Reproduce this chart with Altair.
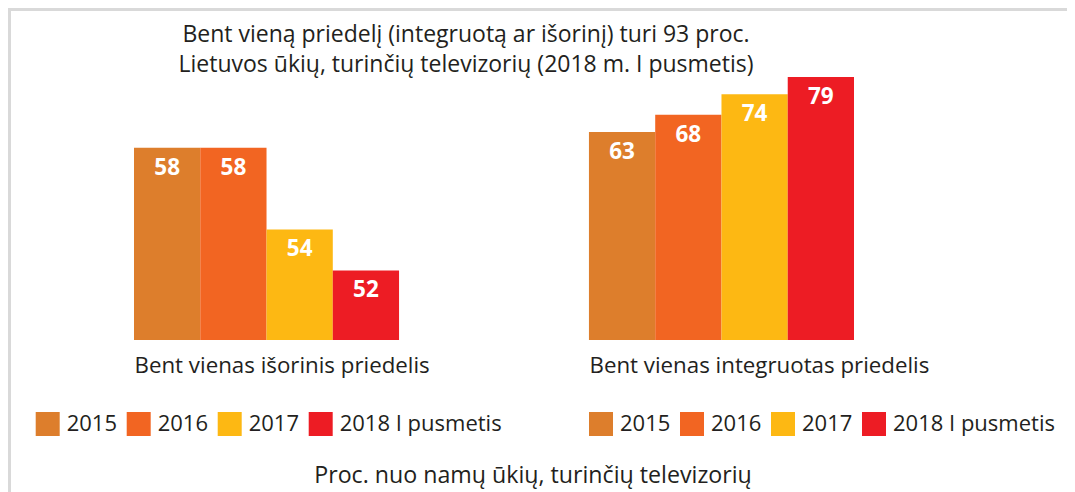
import altair as alt
import pandas as pd

groups = ["Bent vienas išorinis priedelis", "Bent vienas integruotas priedelis"]
years = ["2015", "2016", "2017", "2018 I pusmetis"]
external_values = [58, 58, 54, 52]
integrated_values = [63, 68, 74, 79]
colors = ["#DD7E2C", "#F26522", "#FDB813", "#ED1C24"]
title_lines = [
    "Bent vieną priedelį (integruotą ar išorinį) turi 93 proc.",
    "Lietuvos ūkių, turinčių televizorių (2018 m. I pusmetis)",
]
note = "Proc. nuo namų ūkių, turinčių televizorių"

FONT = "Open Sans"
TEXT = "#231f20"

df_ext = pd.DataFrame({"group": groups[0], "year": years, "value": external_values})
df_int = pd.DataFrame({"group": groups[1], "year": years, "value": integrated_values})

x_enc = alt.X(
    "group:N",
    sort=groups,
    scale=alt.Scale(domain=groups, range=[126, 846], paddingInner=0.4174, paddingOuter=0),
    axis=alt.Axis(
        title=note,
        domain=False,
        ticks=False,
        tickSize=0,
        labelAlign="left",
        labelBaseline="middle",
        labelOffset=-132,
        labelPadding=25,
        labelAngle=0,
        labelLimit=0,
        labelFont=FONT,
        labelFontSize=22.3,
        labelColor=TEXT,
        titleX=524.5,
        titleY=135,
        titleAlign="center",
        titleBaseline="middle",
        titleLimit=1000,
        titleFont=FONT,
        titleFontSize=23.2,
        titleFontWeight="normal",
        titleColor=TEXT,
    ),
)
xo = alt.XOffset("year:N", sort=years, scale=alt.Scale(domain=years, paddingInner=0, paddingOuter=0))


def group_layer(df, domain, legend_x):
    y = alt.Y("value:Q", scale=alt.Scale(domain=domain, clamp=True), axis=None)
    color = alt.Color(
        "year:N",
        sort=years,
        scale=alt.Scale(domain=years, range=colors),
        legend=alt.Legend(
            title=None,
            orient="none",
            legendX=legend_x,
            legendY=336,
            direction="horizontal",
            symbolType="square",
            symbolSize=576,
            symbolStrokeWidth=0,
            symbolOpacity=1,
            labelFont=FONT,
            labelFontSize=22,
            labelColor=TEXT,
            labelOffset=7,
            labelLimit=400,
            columnPadding=9,
            padding=0,
        ),
    )
    bars = alt.Chart(df).mark_bar(opacity=1).encode(x=x_enc, xOffset=xo, y=y, color=color)
    labels = alt.Chart(df).mark_text(
        dy=20, baseline="middle", font=FONT, fontWeight="bold", fontSize=22.5, color="white"
    ).encode(x=x_enc, xOffset=xo, y=y, text="value:Q")
    return alt.layer(bars, labels)


frame_df = pd.DataFrame({"k": [0]})
frame_top = alt.Chart(frame_df).mark_rule(color="#d9d9d9", strokeWidth=3).encode(
    x=alt.value(0), x2=alt.value(1059), y=alt.value(-66.5)
)
frame_left = alt.Chart(frame_df).mark_rule(color="#d9d9d9", strokeWidth=3).encode(
    x=alt.value(1.5), y=alt.value(-68), y2=alt.value(416)
)

chart = (
    alt.layer(
        frame_top,
        frame_left,
        group_layer(df_ext, [48.6, 61.5], 27.7),
        group_layer(df_int, [2.5, 79.3], 581),
    )
    .resolve_scale(y="independent", color="independent")
    .properties(
        width=1059,
        height=264,
        padding={"left": 0, "top": 68, "right": 0, "bottom": 152},
        autosize=alt.AutoSizeParams(type="none"),
        title=alt.TitleParams(
            text=title_lines,
            anchor="middle",
            frame="group",
            dx=-71.5,
            offset=-81,
            baseline="middle",
            lineHeight=30,
            font=FONT,
            fontSize=23,
            fontWeight="normal",
            color=TEXT,
        ),
    )
    .configure_view(stroke=None)
)

chart.save("out.html", embed_options={"renderer": "svg", "actions": False})
